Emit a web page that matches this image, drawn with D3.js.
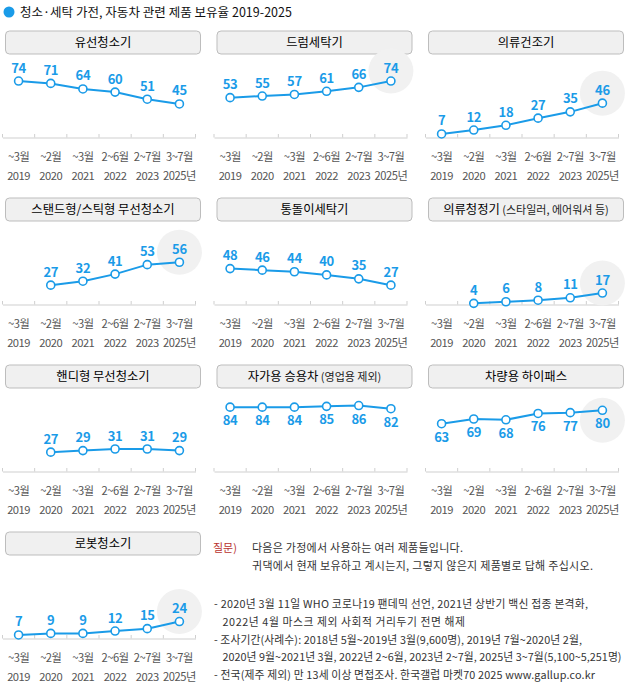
<!DOCTYPE html>
<html><head><meta charset="utf-8">
<script src="https://cdn.jsdelivr.net/npm/d3@7/dist/d3.min.js"></script>
<style>
html,body{margin:0;padding:0;background:#fff;}
svg{display:block;}
text{font-family:"Noto Sans CJK KR","Noto Sans",sans-serif;}
</style></head>
<body>
<svg id="chart" width="633" height="687"></svg>
<script>
const chartTitle = "청소·세탁 가전, 자동차 관련 제품 보유율 2019-2025";
const periods = ["p2019","p2020","p2021","p2022","p2023","p2025"];
const tickMonths = ["~3월","~2월","~3월","2~6월","2~7월","3~7월"];
const tickYears = ["2019","2020","2021","2022","2023","2025년"];

const panelTitles = ["유선청소기","드럼세탁기","의류건조기","스탠드형/스틱형 무선청소기","통돌이세탁기","의류청정기","핸디형 무선청소기","자가용 승용차","차량용 하이패스","로봇청소기"];
const panelSubtitles = ["","","","","","(스타일러, 에어워셔 등)","","(영업용 제외)","",""];

const seriesWired = [74,71,64,60,51,45];
const seriesDrum = [53,55,57,61,66,74];
const seriesDryer = [7,12,18,27,35,46];
const seriesStick = [null,27,32,41,53,56];
const seriesTub = [48,46,44,40,35,27];
const seriesClothCare = [null,4,6,8,11,17];
const seriesHandy = [null,27,29,31,31,29];
const seriesCar = [84,84,84,85,86,82];
const seriesHipass = [63,69,68,76,77,80];
const seriesRobot = [7,9,9,12,15,24];
const allSeries = [seriesWired,seriesDrum,seriesDryer,seriesStick,seriesTub,seriesClothCare,seriesHandy,seriesCar,seriesHipass,seriesRobot];

const questionLabel = "질문)";
const questionLines = ["다음은 가정에서 사용하는 여러 제품들입니다.","귀댁에서 현재 보유하고 계시는지, 그렇지 않은지 제품별로 답해 주십시오."];
const noteLines = [
  "- 2020년 3월 11일 WHO 코로나19 팬데믹 선언, 2021년 상반기 백신 접종 본격화,",
  "2022년 4월 마스크 제외 사회적 거리두기 전면 해제",
  "- 조사기간(사례수):  2018년 5월~2019년 3월(9,600명), 2019년 7월~2020년 2월,",
  "2020년 9월~2021년 3월, 2022년 2~6월, 2023년 2~7월, 2025년 3~7월(5,100~5,251명)",
  "- 전국(제주 제외) 만 13세 이상 면접조사. 한국갤럽 마켓70 2025 www.gallup.co.kr"
];

const BLUE = "#1a9be8";
const svg = d3.select("#chart");

// main title
svg.append("circle").attr("cx",9).attr("cy",12).attr("r",5.5).attr("fill",BLUE);
svg.append("text").attr("x",20).attr("y",16.5).attr("font-size",12.5).attr("fill","#111")
  .attr("textLength",272).attr("lengthAdjust","spacing").text(chartTitle);

const colX = [0, 211.5, 423];
const rowAxis = [137.5, 304.5, 471.5, 638.5];

const x = d3.scaleBand().domain(periods).range([2.5,195.5]).paddingInner(0).paddingOuter(0);

allSeries.forEach((vals, i) => {
  const col = i % 3, row = Math.floor(i/3);
  const ay = rowAxis[row];
  const g = svg.append("g").attr("transform",`translate(${colX[col]},0)`);
  const y = d3.scaleLinear().domain([0,100]).range([ay+2, ay+2-79]);

  // title box
  g.append("rect").attr("x",5.5).attr("y",ay-106.5).attr("width",195).attr("height",23)
    .attr("rx",4).attr("fill","#f0f0f0").attr("stroke","#bdbdbd").attr("stroke-width",1);
  const t = g.append("text").attr("x",103).attr("y",ay-90.5).attr("text-anchor","middle")
    .attr("font-size",12.3).attr("fill","#000");
  t.append("tspan").text(panelTitles[i]);
  if (panelSubtitles[i]) t.append("tspan").attr("font-size",11).attr("fill","#222").text(" " + panelSubtitles[i]);

  // axis
  const axis = d3.axisTop(x).tickSize(0).tickFormat("");
  const ag = g.append("g").attr("transform",`translate(0,${ay})`).call(axis);
  ag.select(".domain").attr("stroke","#cfcfcf");
  const bounds = periods.map(p => x(p)).concat([x.range()[1]]);
  ag.selectAll("line.sep").data(bounds).join("line").attr("class","sep")
    .attr("x1",d=>d).attr("x2",d=>d).attr("y1",0).attr("y2",-3.5).attr("stroke","#cfcfcf");

  const cx = p => x(p) + x.bandwidth()/2;
  g.selectAll("text.tm").data(periods).join("text").attr("class","tm")
    .attr("x",p=>cx(p)).attr("y",ay+23).attr("text-anchor","middle").attr("font-size",11.2)
    .attr("letter-spacing",-0.5).attr("fill","#555")
    .text((p,j)=>tickMonths[j]);
  g.selectAll("text.ty").data(periods).join("text").attr("class","ty")
    .attr("x",p=>cx(p)).attr("y",ay+42).attr("text-anchor","middle").attr("font-size",11.2)
    .attr("letter-spacing",-0.5).attr("fill","#555")
    .text((p,j)=>tickYears[j]);

  const pts = periods.map((p,j)=>({p, v: vals[j]}));
  const valid = pts.filter(d=>d.v!=null);
  const below = d3.max(valid, d=>d.v) >= 80;
  const last = valid[valid.length-1], prev = valid[valid.length-2];

  if (last.v > prev.v) {
    g.append("circle").attr("cx",cx(last.p)).attr("cy",y(last.v) + (below? 10 : -10)).attr("r",22.5).attr("fill","#f1f1f1");
  }

  const line = d3.line().defined(d=>d.v!=null).x(d=>cx(d.p)).y(d=>y(d.v));
  g.append("path").datum(pts).attr("d",line).attr("fill","none").attr("stroke",BLUE).attr("stroke-width",2);
  g.selectAll("circle.pt").data(valid).join("circle").attr("class","pt")
    .attr("cx",d=>cx(d.p)).attr("cy",d=>y(d.v)).attr("r",4).attr("fill","#fff").attr("stroke",BLUE).attr("stroke-width",1.6);
  g.selectAll("text.val").data(valid).join("text").attr("class","val")
    .attr("x",d=>cx(d.p)).attr("y",d=>y(d.v) + (below? 18 : -8.5)).attr("text-anchor","middle")
    .attr("font-family","Roboto, 'Noto Sans', sans-serif").attr("font-weight","bold").attr("font-size",13)
    .attr("letter-spacing",-0.3).attr("fill",BLUE).text(d=>d.v);
});

// question & notes (text widths fitted to the reference)
const qY = [552, 569.5], qEnd = [463, 593];
svg.append("text").attr("x",213).attr("y",qY[0]).attr("font-size",11).attr("fill","#b8322e").text(questionLabel);
questionLines.forEach((s,k)=>{
  svg.append("text").attr("x",252).attr("y",qY[k]).attr("font-size",11).attr("fill","#333")
    .attr("textLength",qEnd[k]-252).attr("lengthAdjust","spacing").text(s);
});
const nY = [607.5, 625.5, 644, 660.5, 679];
const nX = [214, 222.5, 214, 222.5, 214];
const nEnd = [588, 465, 582, 621.5, 595];
noteLines.forEach((s,k)=>{
  svg.append("text").attr("x",nX[k]).attr("y",nY[k]).attr("font-size",10.8).attr("fill","#333")
    .attr("textLength",nEnd[k]-nX[k]).attr("lengthAdjust","spacing").text(s);
});
</script>
</body></html>
